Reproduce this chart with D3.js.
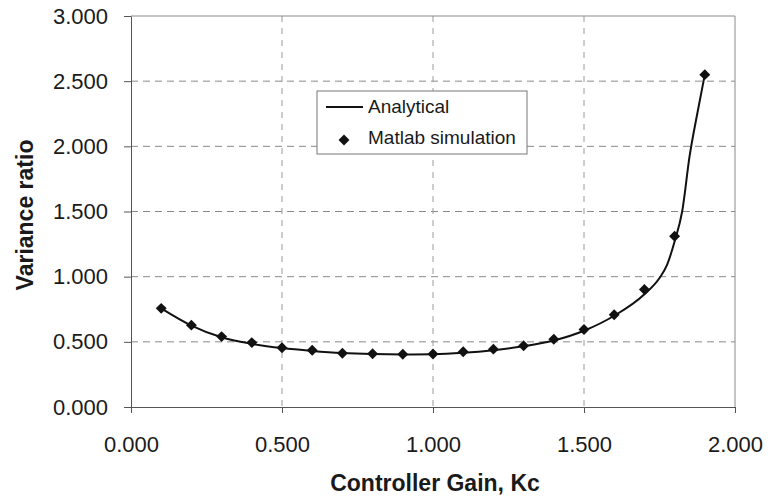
<!DOCTYPE html>
<html>
<head>
<meta charset="utf-8">
<script src="https://cdn.jsdelivr.net/npm/d3@7"></script>
<style>
  body { margin: 0; background: #fff; }
  text { font-family: "Liberation Sans", Arial, sans-serif; fill: #1a1a1a; }
</style>
</head>
<body>
<svg id="chart"></svg>
<script>
// Matlab simulation points
const simKc = [0.1, 0.2, 0.3, 0.4, 0.5, 0.6, 0.7, 0.8, 0.9, 1.0, 1.1, 1.2, 1.3, 1.4, 1.5, 1.6, 1.7, 1.8, 1.9];
const simVar = [0.757, 0.628, 0.540, 0.494, 0.455, 0.435, 0.412, 0.408, 0.405, 0.406, 0.424, 0.444, 0.470, 0.520, 0.594, 0.708, 0.902, 1.310, 2.550];

// analytical curve
const anaKc = [0.1, 0.2, 0.3, 0.4, 0.5, 0.6, 0.7, 0.8, 0.9, 1.0, 1.1, 1.2, 1.3, 1.4, 1.5, 1.6, 1.7, 1.75, 1.775, 1.8, 1.825, 1.85, 1.875, 1.9];
const anaVar = [0.757, 0.625, 0.535, 0.485, 0.452, 0.430, 0.414, 0.406, 0.403, 0.405, 0.416, 0.436, 0.466, 0.510, 0.585, 0.700, 0.865, 0.990, 1.090, 1.270, 1.500, 1.930, 2.250, 2.550];

const xTicks = [0, 0.5, 1.0, 1.5, 2.0];
const yTicks = [0, 0.5, 1.0, 1.5, 2.0, 2.5, 3.0];
const legendLabels = ["Analytical", "Matlab simulation"];

class VarianceChart {
    margin = { top: 16, right: 36, bottom: 90, left: 131 }

    constructor(svg, width = 771, height = 497) {
        this.svg = svg;
        this.width = width;
        this.height = height;
    }

    initialize() {
        this.svg = d3.select(this.svg)
            .attr("width", this.width)
            .attr("height", this.height);
        this.w = this.width - this.margin.left - this.margin.right;
        this.h = this.height - this.margin.top - this.margin.bottom;

        this.container = this.svg.append("g")
            .attr("transform", `translate(${this.margin.left}, ${this.margin.top})`);
        this.grid = this.container.append("g");
        this.xAxis = this.container.append("g");
        this.yAxis = this.container.append("g");
        this.plot = this.container.append("g");
        this.legend = this.svg.append("g");

        this.xScale = d3.scaleLinear().domain([0, 2]).range([0, this.w]);
        this.yScale = d3.scaleLinear().domain([0, 3]).range([this.h, 0]);
    }

    update() {
        const x = this.xScale, y = this.yScale;

        // dashed grid
        this.grid.selectAll(".hg")
            .data(yTicks.filter(d => d > 0 && d < 3))
            .join("line")
            .attr("class", "hg")
            .attr("x1", 0).attr("x2", this.w)
            .attr("y1", d => y(d)).attr("y2", d => y(d))
            .attr("stroke", "#8a8a8a").attr("stroke-width", 1)
            .attr("stroke-dasharray", "7,5");
        this.grid.selectAll(".vg")
            .data(xTicks.filter(d => d > 0 && d < 2))
            .join("line")
            .attr("class", "vg")
            .attr("y1", 0).attr("y2", this.h)
            .attr("x1", d => x(d)).attr("x2", d => x(d))
            .attr("stroke", "#9a9a9a").attr("stroke-width", 1)
            .attr("stroke-dasharray", "6,6");
        // top / right frame
        this.grid.append("path")
            .attr("d", `M0,${y(3)}H${x(2)}V${y(0)}`)
            .attr("fill", "none").attr("stroke", "#8a8a8a");

        this.xAxis
            .attr("transform", `translate(0, ${this.h})`)
            .call(d3.axisBottom(x).tickValues(xTicks).tickFormat(d3.format(".3f"))
                .tickSize(6).tickPadding(23).tickSizeOuter(0));
        this.yAxis
            .call(d3.axisLeft(y).tickValues(yTicks).tickFormat(d3.format(".3f"))
                .tickSize(7).tickPadding(16).tickSizeOuter(0));
        [this.xAxis, this.yAxis].forEach(a => {
            a.select(".domain").attr("stroke", "#555");
            a.selectAll(".tick line").attr("stroke", "#555");
            a.selectAll(".tick text").attr("font-size", 22).attr("fill", "#1a1a1a")
                .attr("font-family", "Liberation Sans, Arial, sans-serif");
        });

        const line = d3.line()
            .x((d, i) => x(anaKc[i]))
            .y(d => y(d))
            .curve(d3.curveMonotoneX);
        this.plot.append("path")
            .datum(anaVar)
            .attr("d", line)
            .attr("fill", "none")
            .attr("stroke", "#111")
            .attr("stroke-width", 2);

        const diamond = d3.symbol().type(d3.symbolDiamond2).size(76);
        this.plot.selectAll(".pt")
            .data(simVar)
            .join("path")
            .attr("class", "pt")
            .attr("d", diamond)
            .attr("transform", (d, i) => `translate(${x(simKc[i])}, ${y(d)})`)
            .attr("fill", "#111");

        // axis titles
        this.svg.append("text")
            .attr("x", this.margin.left + this.w / 2 + 2)
            .attr("y", 491)
            .attr("text-anchor", "middle")
            .attr("font-size", 23)
            .attr("font-weight", "bold")
            .text("Controller Gain, Kc");
        this.svg.append("text")
            .attr("transform", "translate(33, 215) rotate(-90)")
            .attr("text-anchor", "middle")
            .attr("font-size", 23)
            .attr("font-weight", "bold")
            .text("Variance ratio");

        // legend box
        this.legend.attr("transform", "translate(317, 91)");
        this.legend.append("rect")
            .attr("width", 210).attr("height", 63)
            .attr("fill", "#fff").attr("stroke", "#777");
        this.legend.append("line")
            .attr("x1", 9).attr("x2", 46).attr("y1", 16).attr("y2", 16)
            .attr("stroke", "#111").attr("stroke-width", 2);
        this.legend.append("path")
            .attr("d", diamond)
            .attr("transform", "translate(27, 49)")
            .attr("fill", "#111");
        this.legend.selectAll(".lt")
            .data(legendLabels)
            .join("text")
            .attr("class", "lt")
            .attr("x", 51)
            .attr("y", (d, i) => 22 + i * 31)
            .attr("font-size", 19)
            .text(d => d);
    }
}

const chart = new VarianceChart(document.getElementById("chart"));
chart.initialize();
chart.update();
</script>
</body>
</html>
